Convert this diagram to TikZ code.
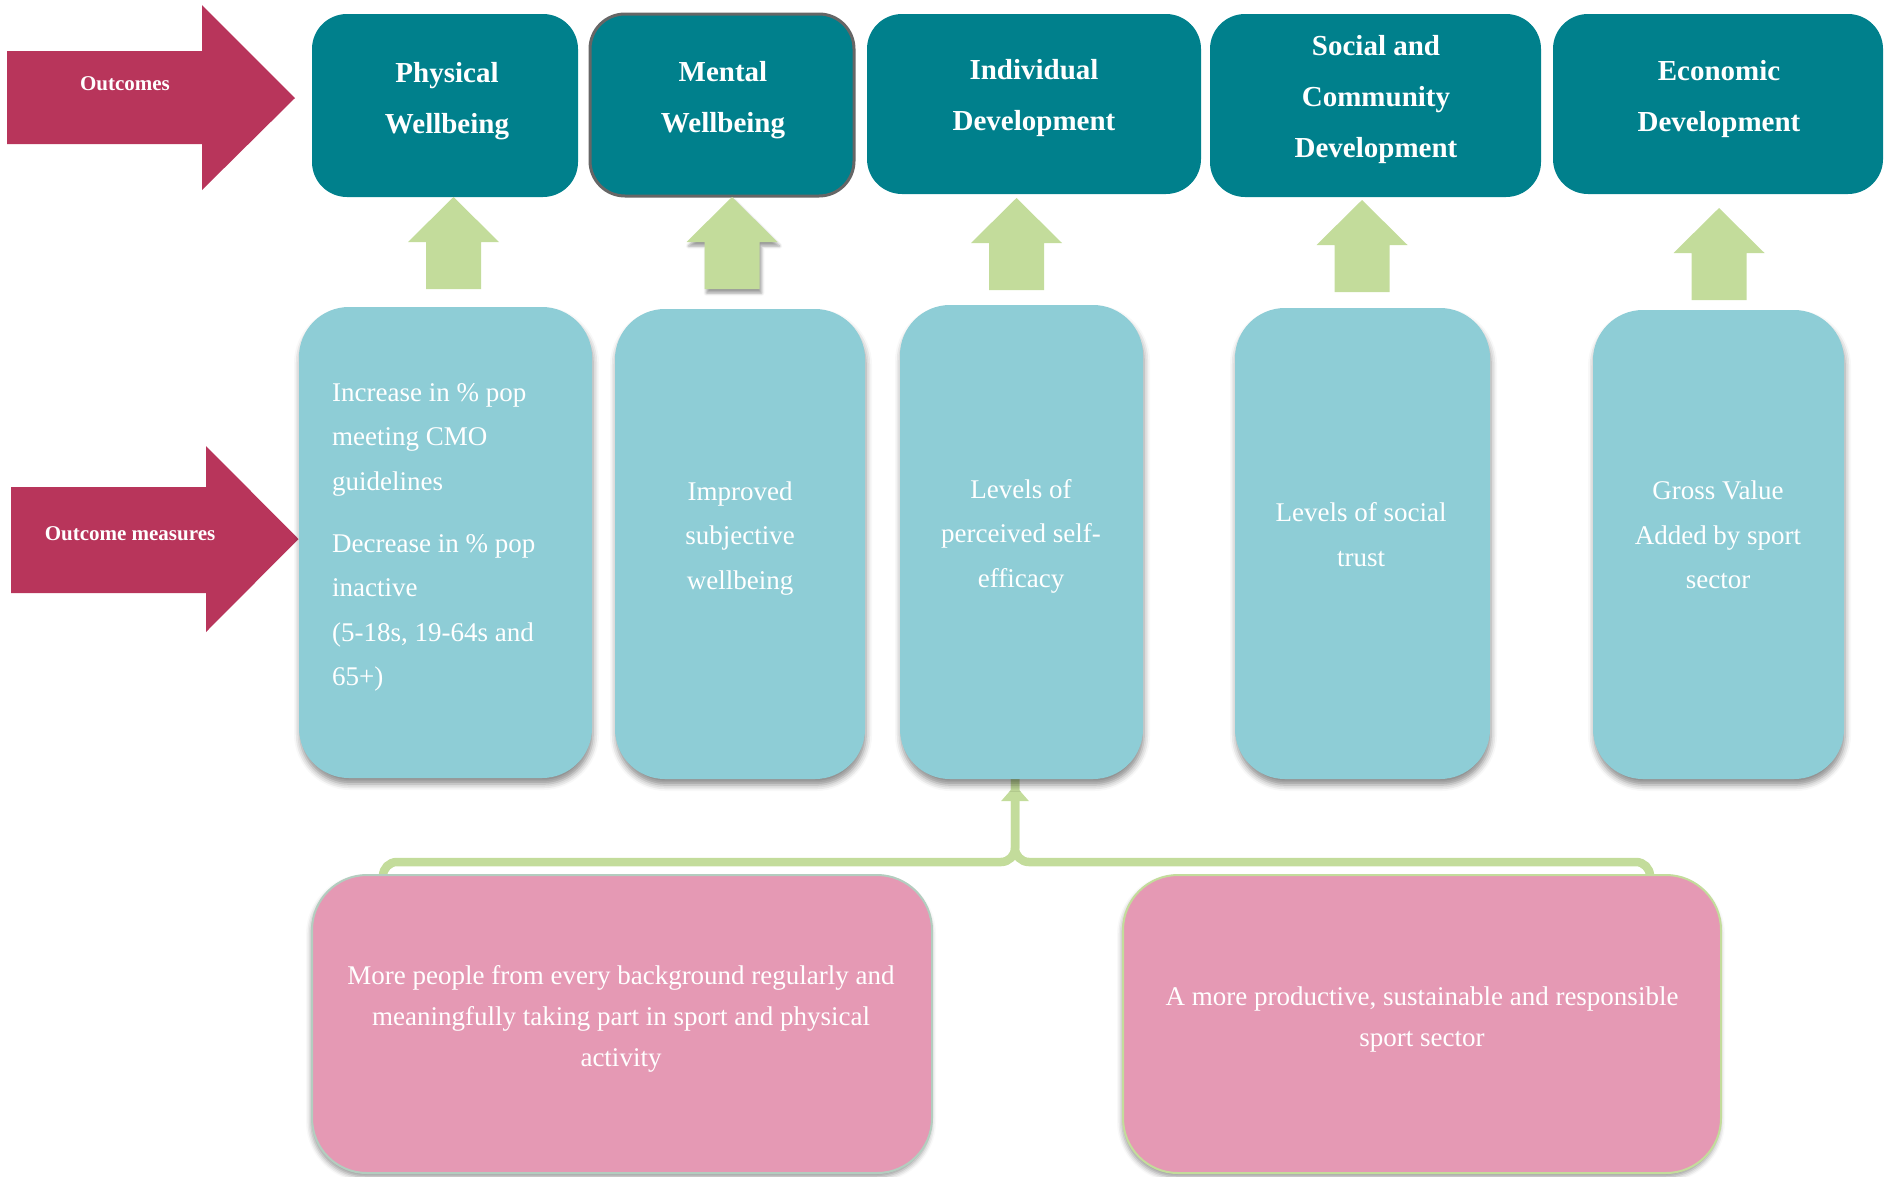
\documentclass[tikz,border=0pt]{standalone}
\usepackage{fontspec}
\setmainfont{Liberation Serif}
\usetikzlibrary{arrows.meta,shadows.blur,backgrounds}
\definecolor{tealA}{HTML}{00808C}
\definecolor{lteal}{HTML}{8ECDD6}
\definecolor{magA}{HTML}{B8355B}
\definecolor{lgreen}{HTML}{C3DC9B}
\definecolor{pinkA}{HTML}{E599B4}
\definecolor{pinkedge}{HTML}{B3CDBF}
\tikzset{
 topbox/.style={fill=tealA, rounded corners=35pt, inner sep=0pt},
 toptext/.style={text=white, align=center, font=\bfseries\fontsize{29}{51}\selectfont, inner sep=0pt},
 measbox/.style={fill=lteal, rounded corners=50pt, inner sep=0pt,
   blur shadow={shadow xshift=1pt, shadow yshift=-6pt, shadow blur radius=6pt, shadow opacity=45}},
 meastext/.style={text=white, align=center, font=\fontsize{27}{44.5}\selectfont, inner sep=0pt},
 pinkbox/.style={fill=pinkA, rounded corners=55pt, line width=2pt, inner sep=0pt,
   blur shadow={shadow xshift=-1pt, shadow yshift=-4pt, shadow blur radius=5pt, shadow opacity=40}},
 pinktext/.style={text=white, align=center, font=\fontsize{27}{41}\selectfont, inner sep=0pt},
 garrow/.style={fill=lgreen},
 marrow/.style={fill=magA},
 mlabel/.style={text=white, font=\bfseries\fontsize{21}{25}\selectfont, inner sep=0pt},
 conn/.style={draw=lgreen, line width=8.5pt, rounded corners=14pt}
}
\newcommand\blockup[3]{%
 \fill[garrow,#3] (#1,#2) -- ({#1+45.5},{#2+45}) -- ({#1+27.5},{#2+45}) -- ({#1+27.5},{#2+92})
   -- ({#1-27.5},{#2+92}) -- ({#1-27.5},{#2+45}) -- ({#1-45.5},{#2+45}) -- cycle;}
\begin{document}
\begin{tikzpicture}[x=1pt,y=-1pt]
\useasboundingbox (0,0) rectangle (1884,1176);

% magenta arrows
\fill[marrow] (7,51) -- (202,51) -- (202,5) -- (295,98) -- (202,190) -- (202,144) -- (7,144) -- cycle;
\node[mlabel] (lOut) at (125,84) {Outcomes};
\fill[marrow] (11,487) -- (206,487) -- (206,446) -- (298.5,539) -- (206,632) -- (206,593) -- (11,593) -- cycle;
\node[mlabel] (lMeas) at (130,533.5) {Outcome measures};

% top outcome boxes
\node[topbox, minimum width=266pt, minimum height=183pt] (o1) at (445,105.5) {};
\node[topbox, draw=black!60, line width=3pt, minimum width=264pt, minimum height=182pt] (o2) at (722,105) {};
\node[topbox, minimum width=334pt, minimum height=180pt] (o3) at (1034,104) {};
\node[topbox, minimum width=331pt, minimum height=183pt] (o4) at (1375.5,105.5) {};
\node[topbox, minimum width=330pt, minimum height=180pt] (o5) at (1718,104) {};
\node[toptext] (t1) at (447,101) {Physical\\Wellbeing};
\node[toptext] (t2) at (723,100) {Mental\\Wellbeing};
\node[toptext] (t3) at (1034,98.5) {Individual\\Development};
\node[toptext] (t4) at (1376,100) {Social and\\Community\\Development};
\node[toptext] (t5) at (1719,99) {Economic\\Development};

% green block arrows
\blockup{453.5}{197}{}
\blockup{732}{197}{blur shadow={shadow xshift=2pt, shadow yshift=-4pt, shadow blur radius=3pt, shadow opacity=40}}
\blockup{1016.5}{198}{}
\blockup{1362}{200}{}
\blockup{1719}{208}{}

% measure boxes
\node[measbox, minimum width=293pt, minimum height=471pt] (m1) at (445.5,542.5) {};
\node[measbox, minimum width=250pt, minimum height=470pt] (m2) at (740,544) {};
\node[measbox, minimum width=243pt, minimum height=474pt] (m3) at (1021.5,542) {};
\node[measbox, minimum width=255pt, minimum height=471pt] (m4) at (1362.5,543.5) {};
\node[measbox, minimum width=251pt, minimum height=469pt] (m5) at (1718.5,544.5) {};
\node[meastext, align=left, anchor=west] (mt1) at (332,537.5)
 {Increase in \% pop\\meeting CMO\\guidelines\\[17.5pt]Decrease in \% pop\\inactive\\(5-18s, 19-64s and\\65+)};
\node[meastext] (mt2) at (740,538.5) {Improved\\subjective\\wellbeing};
\node[meastext] (mt3) at (1021,536) {Levels of\\perceived self-\\efficacy};
\node[meastext] (mt4) at (1361,534.5) {Levels of social\\trust};
\node[meastext] (mt5) at (1718,535) {Gross Value\\Added by sport\\sector};

% pink boxes
\node[pinkbox, draw=pinkedge, minimum width=620pt, minimum height=298pt] (pinkL) at (622,1024) {};
\node[pinkbox, draw=lgreen, minimum width=598pt, minimum height=298pt] (pinkR) at (1422,1024) {};
\node[pinktext] (pt1) at (621,1019) {More people from every background regularly and\\meaningfully taking part in sport and physical\\activity};
\node[pinktext] (pt2) at (1422,1019.5) {A more productive, sustainable and responsible\\sport sector};

% connector
\begin{scope}[on background layer]
\coordinate (hub) at (1015,862);
\draw[conn] ([xshift=72pt,yshift=-10pt]pinkL.north west) |- (hub) -- ([xshift=-6.5pt,yshift=5pt]m3.south);
\draw[conn] ([xshift=-72pt,yshift=-10pt]pinkR.north east) |- (hub) -- ([xshift=-6.5pt,yshift=5pt]m3.south);
\fill[lgreen] ([xshift=-6.5pt,yshift=-6pt]m3.south) -- ++(-14,16) -- ++(28,0) -- cycle;
\end{scope}
\end{tikzpicture}
\end{document}
